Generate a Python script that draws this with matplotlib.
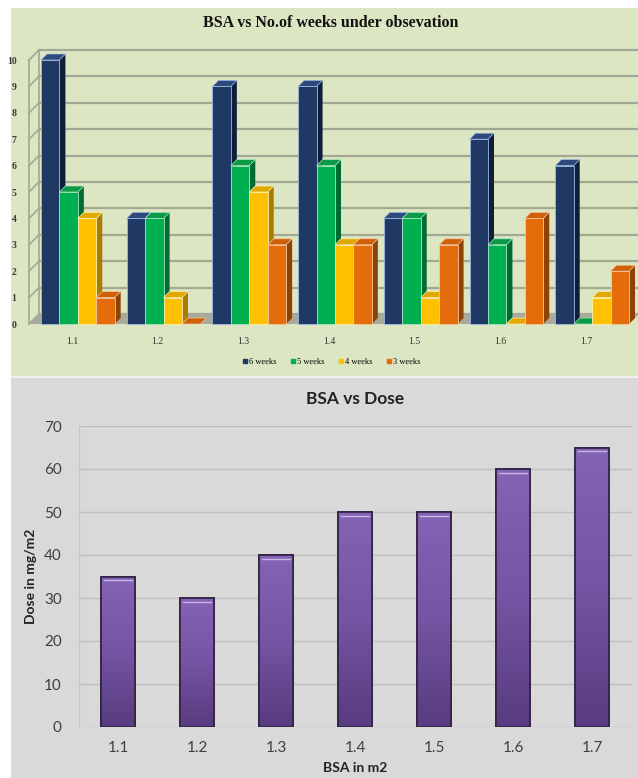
import numpy as np
import matplotlib
matplotlib.use("Agg")
import matplotlib.pyplot as plt
from matplotlib.patches import Rectangle, Polygon
from matplotlib.lines import Line2D
from matplotlib.colors import LinearSegmentedColormap

# data
bsa = ["1.1", "1.2", "1.3", "1.4", "1.5", "1.6", "1.7"]
weeks6 = [10, 4, 9, 9, 4, 7, 6]
weeks5 = [5, 4, 6, 6, 4, 3, 0]
weeks4 = [4, 1, 5, 3, 1, 0, 1]
weeks3 = [1, 0, 3, 3, 3, 4, 2]
series_names = ["6 weeks", "5 weeks", "4 weeks", "3 weeks"]
dose = [35, 30, 40, 50, 50, 60, 65]

W, H = 638, 778
fig = plt.figure(figsize=(W / 100, H / 100), dpi=100)
fig.patch.set_facecolor("white")

def px(x0, y0, w, h):
    # pixel box (top-left origin) -> figure fraction
    return [x0 / W, 1 - (y0 + h) / H, w / W, h / H]

# panel backgrounds
fig.add_artist(Rectangle((11 / W, 1 - 377 / H), 1, (377 - 8) / H, transform=fig.transFigure,
                         facecolor="#dde6c3", edgecolor="none", zorder=-10))
fig.add_artist(Rectangle((11 / W, 0), 1, 1 - 378 / H, transform=fig.transFigure,
                         facecolor="#d9d9d9", edgecolor="none", zorder=-10))
fig.add_artist(Line2D([11 / W, 1], [1 - 377.5 / H] * 2, transform=fig.transFigure,
                      color="#f2f2f2", lw=1.2, zorder=-9))

# ---------------- top chart (3D look columns) ----------------
ax1 = fig.add_axes(px(29, 60, 600, 264))
ax1.set_xlim(-0.5, 6.5)
ax1.set_ylim(0, 10)
ax1.patch.set_visible(False)
for s in ax1.spines.values():
    s.set_visible(False)

ux = 600 / 7.0   # px per x unit
uy = 264 / 10.0  # px per y unit
wdx, wdy = 10 / ux, 10 / uy   # wall depth
bdx, bdy = 6 / ux, 6 / uy     # bar depth
grid_c = "#a3a892"
x0, x1 = -0.5, 6.5

# floor
ax1.add_patch(Polygon([(x0, 0), (x1, 0), (x1 + wdx, wdy), (x0 + wdx, wdy)],
                      closed=True, facecolor="#a8ab9c", edgecolor="none", clip_on=False, zorder=1))
# back wall gridlines + side wall
for k in range(0, 11):
    ax1.plot([x0 + wdx, x1 + wdx], [k + wdy, k + wdy], color=grid_c, lw=1.6, clip_on=False, zorder=0)
    ax1.plot([x0, x0 + wdx], [k, k + wdy], color=grid_c, lw=1.2, clip_on=False, zorder=0)
ax1.plot([x0, x0], [0, 10], color=grid_c, lw=1.2, clip_on=False, zorder=0)
ax1.plot([x0 + wdx, x0 + wdx], [0 + wdy, 10 + wdy], color=grid_c, lw=1.2, clip_on=False, zorder=0)

front = ["#1f3864", "#00b050", "#ffc000", "#e46c0a"]
top_c = ["#2c4a7e", "#0c9a48", "#e0a800", "#cf5f08"]
side_c = ["#0f1f3a", "#006b30", "#a87d00", "#8e4305"]
edge_c = ["#9db8de", "#a5e6c0", "#fff0b0", "#f6c79f"]
bw = 0.215
shift = 0.07
all_series = [weeks6, weeks5, weeks4, weeks3]
z = 2
for i in range(len(bsa)):
    for j, vals in enumerate(all_series):
        v = vals[i]
        xl = i - 2 * bw + j * bw + shift
        xr = xl + bw
        ax1.add_patch(Polygon([(xr, 0), (xr + bdx, bdy), (xr + bdx, v + bdy), (xr, v)], closed=True,
                              facecolor=side_c[j], edgecolor="none", clip_on=False, zorder=z))
        ax1.add_patch(Polygon([(xl, v), (xr, v), (xr + bdx, v + bdy), (xl + bdx, v + bdy)], closed=True,
                              facecolor=top_c[j], edgecolor=edge_c[j], lw=0.5, clip_on=False, zorder=z))
        if v > 0:
            ax1.bar(xl, v, width=bw, align="edge", color=front[j], edgecolor=edge_c[j], lw=0.6,
                    clip_on=False, zorder=z + 0.5)
        z += 1

ax1.set_xticks(range(len(bsa)))
ax1.set_xticklabels(bsa, fontsize=7, family="Liberation Serif", color="#333333")
ax1.set_yticks(range(0, 11))
ax1.set_yticklabels([str(k) for k in range(0, 11)], fontsize=7, family="Liberation Serif",
                    color="#3a3a3a", fontweight="bold")
ax1.tick_params(axis="both", length=0)
ax1.tick_params(axis="y", pad=9)
ax1.tick_params(axis="x", pad=9)

fig.text(331 / W, 1 - 23 / H, "BSA vs No.of weeks under obsevation", ha="center", va="center",
         fontsize=11.5, fontweight="bold", family="Liberation Serif", color="#111111")

handles = [Line2D([], [], marker="s", ls="none", markersize=3, color=c) for c in front]
fig.legend(handles, series_names, loc="center", bbox_to_anchor=(331 / W, 1 - 362 / H), ncol=4,
           frameon=False, prop={"family": "Liberation Serif", "size": 6}, handletextpad=0.05,
           columnspacing=1.6, handlelength=0.8)

# ---------------- bottom chart ----------------
ax2 = fig.add_axes(px(78.5, 426, 553, 301))
ax2.patch.set_visible(False)
for s in ax2.spines.values():
    s.set_visible(False)
ax2.axvline(-0.5, color="#c6c6c6", lw=1, zorder=0)
ax2.set_yticks(range(0, 71, 10))
ax2.yaxis.grid(True, color="#bfbfbf", lw=1)
ax2.set_axisbelow(True)

xs = np.arange(len(bsa))
bars = ax2.bar(xs, dose, width=0.42, color="#7352a0", edgecolor="#2f2340", lw=1.2, zorder=2)
grad = np.linspace(0, 1, 256).reshape(-1, 1)
cmap = LinearSegmentedColormap.from_list("p", ["#583b80", "#7554a3", "#8563b5"])
for b in bars:
    x, w, h = b.get_x(), b.get_width(), b.get_height()
    im = ax2.imshow(grad, extent=[x, x + w, 0, h], origin="lower", cmap=cmap, aspect="auto", zorder=2.5)
    im.set_clip_path(b)
    ax2.plot([x + w * 0.08, x + w * 0.92], [h - 0.9, h - 0.9], color="#c9b6e6", lw=1.0, zorder=3)
    ax2.add_patch(Rectangle((x, 0), w, h, facecolor="none", edgecolor="#2f2340", lw=1.2, zorder=3.5))
ax2.set_xlim(-0.5, 6.5)
ax2.set_ylim(0, 70)

ax2.set_xticks(xs)
ax2.set_xticklabels(bsa)
ax2.tick_params(axis="both", length=0, labelsize=11, labelcolor="#404040")
ax2.tick_params(axis="x", pad=10)
ax2.tick_params(axis="y", pad=12)
for lab in ax2.get_xticklabels() + ax2.get_yticklabels():
    lab.set_family("Lato")

ax2.set_title("BSA vs Dose", fontsize=12.5, fontweight="bold", family="Lato", color="#222222", pad=16)
ax2.set_xlabel("BSA in m2", fontsize=10, fontweight="bold", family="Lato", color="#222222", labelpad=5)
ax2.set_ylabel("Dose in mg/m2", fontsize=10, fontweight="bold", family="Lato", color="#222222", labelpad=5)

fig.savefig("out.png", dpi=100)
